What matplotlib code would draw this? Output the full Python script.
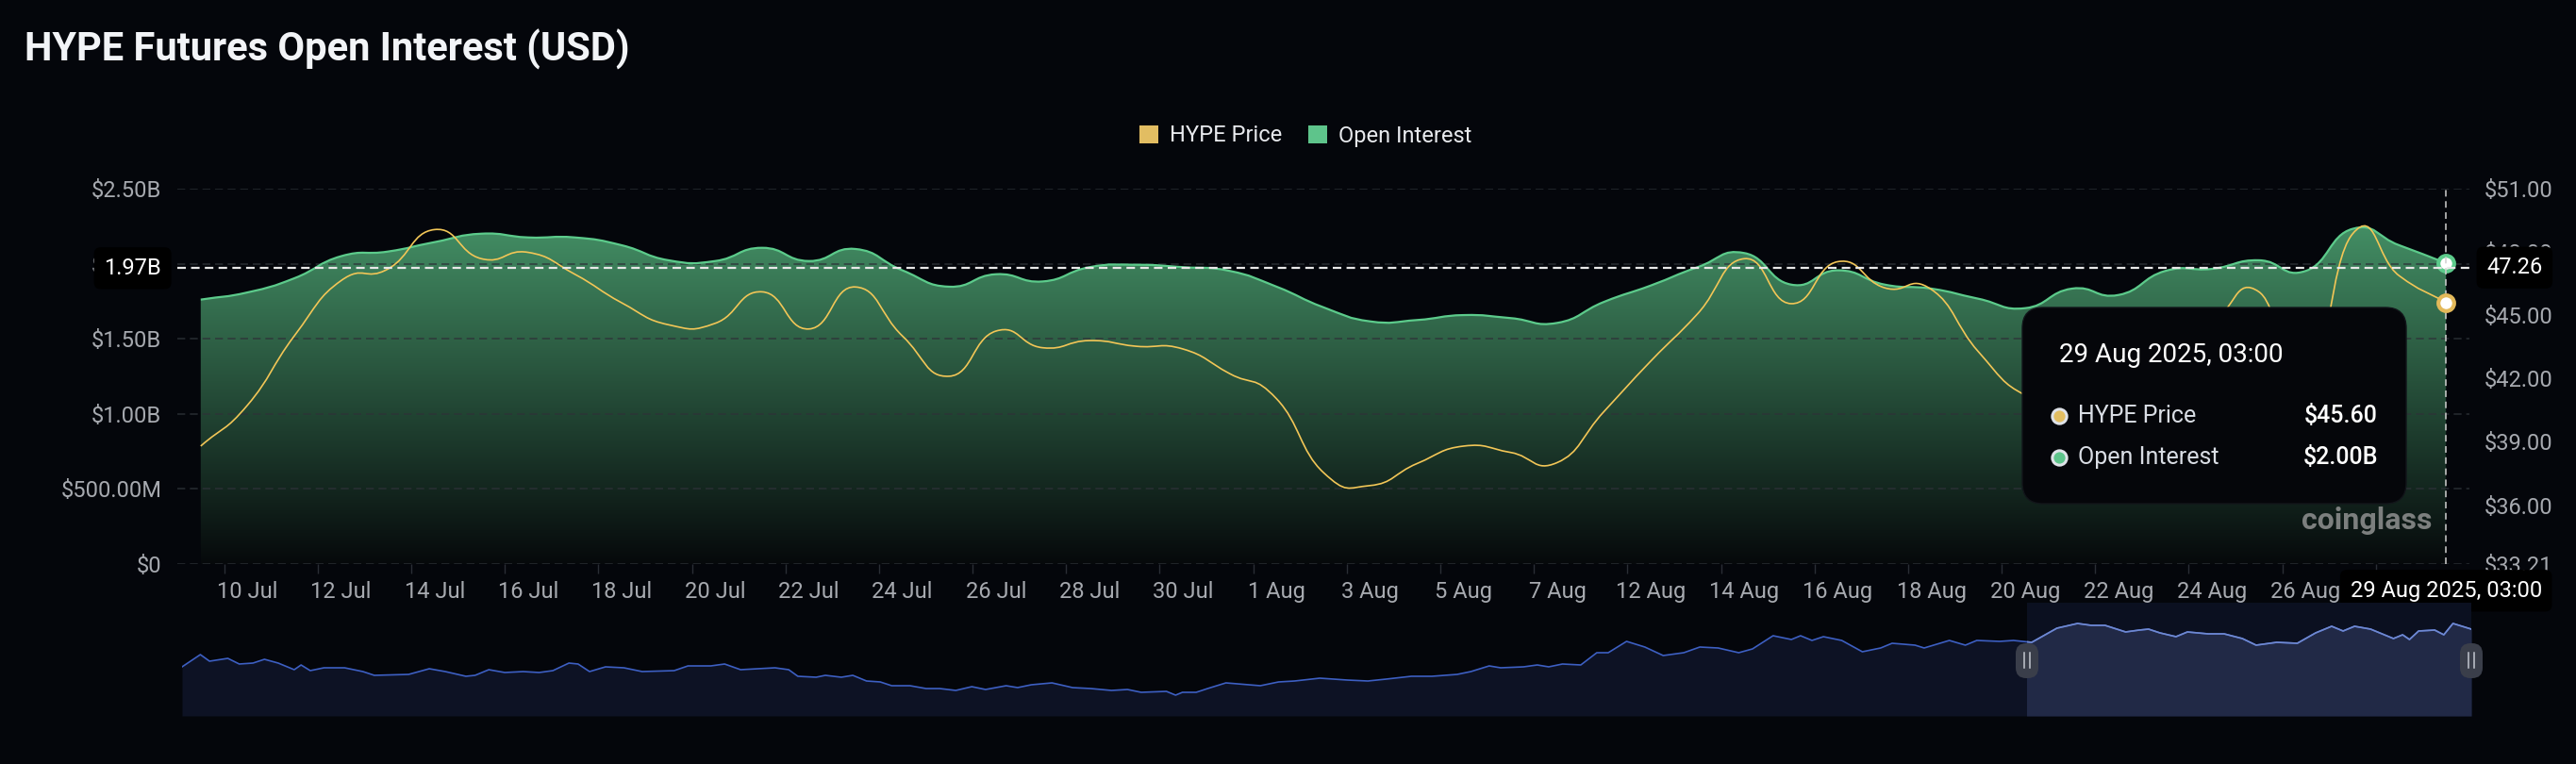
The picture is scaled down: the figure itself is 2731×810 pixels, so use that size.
import numpy as np
import pandas as pd
import matplotlib
matplotlib.use("Agg")
import matplotlib.pyplot as plt
from matplotlib.path import Path
from matplotlib.patches import PathPatch, FancyBboxPatch, Patch, Rectangle
from matplotlib.lines import Line2D
from matplotlib.transforms import IdentityTransform
from matplotlib.colors import to_rgb

plt.rcParams['font.family'] = ['Roboto', 'DejaVu Sans']
plt.rcParams['lines.scale_dashes'] = False

# ---- data ----
dates = (list(pd.date_range("2025-07-09", "2025-08-07"))
         + [pd.Timestamp("2025-08-11")]
         + list(pd.date_range("2025-08-12", "2025-08-29")))

open_interest_b = [1.761, 1.809, 1.903, 2.050, 2.081, 2.144, 2.200, 2.175, 2.175, 2.123,
                   2.023, 2.018, 2.106, 2.018, 2.098, 1.956, 1.847, 1.930, 1.882, 1.977,
                   1.993, 1.977, 1.952, 1.847, 1.710, 1.616, 1.625, 1.658, 1.638, 1.606,
                   1.746, 1.855, 1.977, 2.071, 1.861, 1.956, 1.861, 1.834, 1.767, 1.704,
                   1.834, 1.792, 1.952, 1.966, 2.023, 1.952, 2.232, 2.123, 2.004]

hype_price = [38.80, 40.74, 44.02, 46.64, 47.19, 49.06, 47.68, 47.98, 46.94, 45.59,
              44.55, 44.62, 46.11, 44.35, 46.34, 44.02, 42.11, 44.25, 43.46, 43.80,
              43.53, 43.40, 42.23, 41.04, 37.55, 36.93, 37.97, 38.80, 38.50, 38.02,
              40.44, 42.83, 45.07, 47.68, 45.55, 47.54, 46.30, 46.22, 43.28, 41.22,
              41.00, 41.80, 43.20, 44.60, 46.11, 41.50, 48.85, 46.87, 45.60]

oi_ticks = [0, 0.5, 1.0, 1.5, 2.0, 2.5]
oi_tick_labels = ["$0", "$500.00M", "$1.00B", "$1.50B", "$2.00B", "$2.50B"]
price_ticks = [33.21, 36, 39, 42, 45, 48, 51]

cursor_oi = 1.97
cursor_price = 47.26
cursor_label = "29 Aug 2025, 03:00"
tip_price = "$45.60"
tip_oi = "$2.00B"

# overview (data zoom) strip: position along the strip and relative level
mini_pos = [0.000, 0.008, 0.012, 0.020, 0.025, 0.031, 0.036, 0.042, 0.049, 0.052, 0.056, 0.062,
            0.071, 0.079, 0.084, 0.099, 0.108, 0.115, 0.124, 0.128, 0.134, 0.141, 0.149, 0.156,
            0.162, 0.169, 0.173, 0.178, 0.185, 0.193, 0.201, 0.215, 0.221, 0.231, 0.237, 0.244,
            0.259, 0.265, 0.269, 0.277, 0.281, 0.288, 0.293, 0.299, 0.305, 0.310, 0.318, 0.325,
            0.331, 0.338, 0.345, 0.351, 0.360, 0.365, 0.371, 0.380, 0.389, 0.397, 0.406, 0.413,
            0.419, 0.430, 0.434, 0.437, 0.443, 0.448, 0.456, 0.471, 0.479, 0.486, 0.497, 0.509,
            0.518, 0.526, 0.537, 0.546, 0.557, 0.563, 0.571, 0.576, 0.586, 0.592, 0.597, 0.603,
            0.611, 0.618, 0.623, 0.631, 0.639, 0.647, 0.656, 0.663, 0.671, 0.680, 0.686, 0.695,
            0.703, 0.707, 0.712, 0.717, 0.725, 0.734, 0.742, 0.747, 0.757, 0.761, 0.772, 0.779,
            0.784, 0.794, 0.800, 0.808, 0.819, 0.828, 0.834, 0.840, 0.849, 0.855, 0.859, 0.864,
            0.871, 0.876, 0.885, 0.892, 0.900, 0.906, 0.915, 0.924, 0.932, 0.939, 0.944, 0.949,
            0.956, 0.966, 0.970, 0.973, 0.977, 0.984, 0.988, 0.992, 1.000]
mini_level = [52, 65, 58, 61, 55, 56, 60, 56, 49, 54, 48, 51,
              51, 47, 43, 44, 50, 47, 42, 43, 49, 46, 47, 46,
              48, 56, 55, 47, 52, 51, 47, 48, 53, 53, 55, 49,
              51, 49, 42, 41, 43, 41, 43, 37, 36, 32, 32, 29,
              29, 27, 31, 28, 32, 30, 33, 35, 30, 29, 27, 28,
              25, 26, 22, 25, 25, 29, 35, 32, 36, 37, 40, 38,
              37, 39, 42, 42, 44, 47, 53, 51, 52, 54, 52, 55,
              54, 67, 67, 79, 73, 64, 67, 73, 72, 67, 71, 85,
              81, 85, 80, 84, 80, 68, 72, 77, 75, 72, 80, 75,
              80, 79, 80, 78, 93, 98, 96, 96, 89, 91, 92, 88,
              84, 89, 87, 87, 82, 75, 78, 77, 88, 95, 90, 95,
              92, 82, 86, 81, 90, 91, 86, 98, 92]
mini_window = (0.806, 1.0)

# ---- colours ----
BG = '#04060b'
GREEN = '#5ccb8b'
YELLOW = '#f2c657'
TICK = '#a6a9af'


def smooth_path(xs, ys, smooth=0.5):
    """Bezier path through the points, echarts-style smoothing."""
    pts = np.column_stack([xs, ys]).astype(float)
    n = len(pts)
    cin, cout = [], []
    for i in range(n):
        prev = pts[max(i - 1, 0)]
        nxt = pts[min(i + 1, n - 1)]
        v = nxt - prev
        d0 = abs(pts[i, 0] - prev[0])
        d1 = abs(nxt[0] - pts[i, 0])
        ratio = d0 / (d0 + d1) if d0 + d1 > 0 else 0.5
        cin.append(pts[i] - v * smooth * ratio)
        cout.append(pts[i] + v * smooth * (1 - ratio))
    verts, codes = [pts[0]], [Path.MOVETO]
    for i in range(n - 1):
        verts += [cout[i], cin[i + 1], pts[i + 1]]
        codes += [Path.CURVE4] * 3
    return verts, codes


W, H = 2731, 810
fig = plt.figure(figsize=(W / 100, H / 100), dpi=100, facecolor=BG)

ax = fig.add_axes([188 / W, (H - 598) / H, 2430 / W, 398 / H])
ax.set_facecolor(BG)
ax2 = ax.twinx()

x = np.arange(len(dates))

# open interest area with vertical gradient
verts, codes = smooth_path(x, open_interest_b)
line_path = Path(verts, codes)
fill_path = Path(verts + [(x[-1], 0), (x[0], 0), (x[0], 0)],
                 codes + [Path.LINETO, Path.LINETO, Path.CLOSEPOLY])
clip = PathPatch(fill_path, facecolor='none', edgecolor='none')
ax.add_patch(clip)
top_val = 2.25
c_top, c_bot = np.array(to_rgb('#438e64')), np.array(to_rgb('#06090b'))
t = np.linspace(0, 1, 256)[:, None, None]
grad = c_bot + (c_top - c_bot) * t
img = ax.imshow(grad, extent=[-0.5, len(x) - 0.5, 0, top_val], origin='lower',
                aspect='auto', interpolation='bilinear', zorder=1)
img.set_clip_path(clip)
ax.add_patch(PathPatch(line_path, facecolor='none', edgecolor=GREEN, lw=1.6, zorder=3))

# price line
pverts, pcodes = smooth_path(x, hype_price)
ax2.add_patch(PathPatch(Path(pverts, pcodes), facecolor='none', edgecolor=YELLOW,
                        lw=1.2, zorder=3))

ax.set_xlim(-0.5, len(x) - 0.5)
ax.set_ylim(0, 2.5)
ax2.set_ylim(price_ticks[0], price_ticks[-1])

for a in (ax, ax2):
    for s in a.spines.values():
        s.set_visible(False)

ax.set_yticks(oi_ticks)
ax.set_yticklabels(oi_tick_labels)
ax.tick_params(axis='y', length=0, pad=12, labelsize=17, labelcolor=TICK)
ax.grid(axis='y', color='#2e3238', alpha=0.8, lw=1.2, ls=(0, (6, 3.6)))
ax.grid(axis='x', visible=False)

ax2.set_yticks(price_ticks)
ax2.set_yticklabels([f"${p:.2f}" for p in price_ticks])
ax2.tick_params(axis='y', length=0, pad=11, labelsize=17, labelcolor=TICK)

label_idx = x[1::2]
ax.set_xticks(label_idx)
ax.set_xticklabels([f"{dates[i].day} {dates[i].strftime('%b')}" for i in label_idx])
ax.set_xticks(np.arange(0.5, len(x) - 0.5, 2), minor=True)
ax.tick_params(axis='x', which='major', length=0, pad=13, labelsize=17, labelcolor=TICK)
ax.tick_params(axis='x', which='minor', length=7, width=1, color='#2a2e35')

# crosshair
ax2.axhline(cursor_price, color='#e8e8e8', lw=1.6, ls=(0, (6.5, 4)), zorder=4)
ax2.axvline(x[-1], color='#d0d0d0', lw=1.1, ls=(0, (5, 3.5)), zorder=4)
ax.plot(x[-1], open_interest_b[-1], 'o', ms=12, mfc='white', mec=GREEN, mew=3,
        zorder=5, clip_on=False)
ax2.plot(x[-1], hype_price[-1], 'o', ms=12, mfc='white', mec='#e3b95a', mew=3,
         zorder=5, clip_on=False)

box = dict(boxstyle='round,pad=0.45,rounding_size=0.3', fc='#000000', ec='none')
ax2.text(-0.007, cursor_oi, f"{cursor_oi:.2f}B", transform=ax.get_yaxis_transform(),
         ha='right', va='center', fontsize=17, color='white', bbox=box, zorder=6)
ax2.text(1.0075, cursor_price, f"{cursor_price:.2f}", transform=ax2.get_yaxis_transform(),
         ha='left', va='center', fontsize=17, color='white', bbox=box, zorder=6)
ax2.text(x[-1], -0.071, cursor_label, transform=ax.get_xaxis_transform(),
         ha='center', va='center', fontsize=17, color='white', bbox=box, zorder=6,
         clip_on=False)

# title and legend
fig.text(26 / W, 1 - 52 / H, "HYPE Futures Open Interest (USD)", fontsize=30,
         fontweight='bold', color='#f2f4f7', ha='left', va='center')
handles = [Patch(facecolor='#e2bd62', label='HYPE Price'),
           Patch(facecolor='#5ec48b', label='Open Interest')]
fig.legend(handles=handles, loc='center', bbox_to_anchor=(1384 / W, 1 - 144 / H), ncol=2,
           frameon=False, fontsize=17, labelcolor='#e8eaee', handlelength=0.85,
           handleheight=0.85, handletextpad=0.5, columnspacing=1.2)

# watermark
fig.text(2440 / W, 1 - 552 / H, "coinglass", fontsize=23, fontweight='bold',
         color='#7c7f7e', ha='left', va='center', zorder=5)

# tooltip
fig.add_artist(FancyBboxPatch((2144, H - 534), 407, 208, transform=IdentityTransform(),
                              boxstyle='round,pad=0,rounding_size=22', fc='#05060a',
                              ec='#12151a', lw=1, zorder=10))
fig.text(2183 / W, 1 - 377 / H, cursor_label, fontsize=20, color='white',
         ha='left', va='center', zorder=11)
rows = [("HYPE Price", tip_price, '#e2bd62', 441), ("Open Interest", tip_oi, '#5ec48b', 485)]
for name, val, col, yy in rows:
    fig.add_artist(Line2D([2183 / W], [1 - yy / H], transform=fig.transFigure, marker='o',
                          ms=11, mfc=col, mec='#dfe2e8', mew=2.2, zorder=11))
    fig.text(2203 / W, 1 - yy / H, name, fontsize=18, color='#d9dde4', ha='left',
             va='center', zorder=11)
    fig.text(2521 / W, 1 - yy / H, val, fontsize=18, color='white', ha='right',
             va='center', zorder=11, fontweight='medium')

# overview strip
axm = fig.add_axes([193 / W, 51 / H, 2427 / W, 120 / H])
axm.set_facecolor(BG)
axm.set_xlim(0, 1)
axm.set_ylim(0, 120)
axm.axis('off')
mp = np.array(mini_pos)
ml = np.array(mini_level)
axm.axvspan(mini_window[0], mini_window[1], color='#0b1020', zorder=0, lw=0)
axm.fill_between(mp, ml, 0, color='#0d1224', lw=0, zorder=1)
sel_box = Rectangle((mini_window[0], 0), mini_window[1] - mini_window[0], 120,
                    transform=axm.transData)
sel_fill = axm.fill_between(mp, ml, 0, color='#212946', lw=0, zorder=2)
sel_fill.set_clip_path(sel_box)
axm.plot(mp, ml, color='#3d5fc2', lw=1.2, zorder=3)
sel_line, = axm.plot(mp, ml, color='#7089d0', lw=1.2, zorder=4)
sel_line.set_clip_path(sel_box)
for hx in (2149, 2620):
    fig.add_artist(FancyBboxPatch((hx - 12, H - 719), 24, 37, transform=IdentityTransform(),
                                  boxstyle='round,pad=0,rounding_size=11', fc='#3a3e4a',
                                  ec='none', zorder=12))
    for dx in (-3, 3):
        fig.add_artist(Line2D([hx + dx, hx + dx], [H - 708, H - 692],
                              transform=IdentityTransform(), color='#c4c8d0', lw=1.1,
                              zorder=13))

fig.savefig("out.png", dpi=100, facecolor=BG)
